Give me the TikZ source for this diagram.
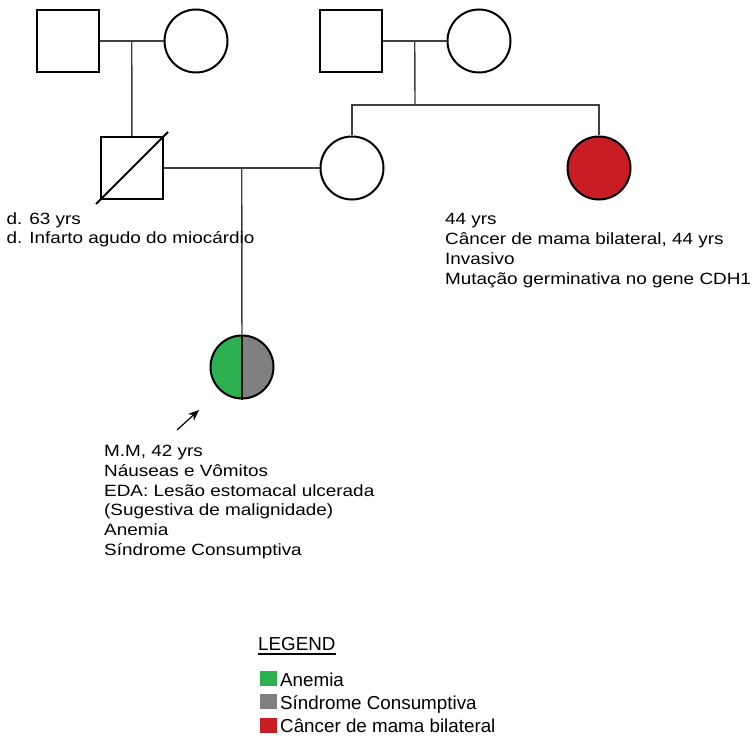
\documentclass[tikz,border=0pt]{standalone}
\usepackage{fontspec}
\setmainfont{Liberation Sans}
\newfontfamily\widesans{Liberation Sans}[FakeStretch=1.16]
\usepackage{tikz}
\usetikzlibrary{arrows.meta}
\usepackage{color}

\definecolor{anemia}{RGB}{45,176,80}
\definecolor{consumptiva}{RGB}{128,128,128}
\definecolor{mama}{RGB}{200,30,35}

\tikzset{
  male/.style={shape=rectangle,draw=black,line width=2pt,minimum size=62pt,inner sep=0pt},
  female/.style={shape=circle,draw=black,line width=2pt,minimum size=63pt,inner sep=0pt},
  rel/.style={draw=black!75,line width=1.4pt},
  info/.style={anchor=north west,inner sep=0pt,align=left,font=\widesans\fontsize{16.3}{19.8}\selectfont},
  keytext/.style={anchor=base west,inner sep=0pt,font=\fontsize{18.8}{23}\selectfont},
  swatch/.style={shape=rectangle,inner sep=0pt,minimum width=17pt,minimum height=15pt}
}

\begin{document}
\begin{tikzpicture}[x=1pt,y=-1pt]
	    \useasboundingbox[fill=white] (0,0) rectangle (752,738);

	    \node[male] (A) at (68,41) {};
	    \node[female] (B) at (196,41) {};
	    \node[male] (C) at (351,41) {};
	    \node[female] (D) at (479,41) {};
	    \node[male] (E) at (132,168) {};
	    \node[female] (F) at (352,168) {};
	    \node[female,fill=mama] (G) at (599,168) {};
	    \node[female,fill=consumptiva,path picture={\fill[anemia] (path picture bounding box.south west) rectangle (path picture bounding box.north);}] (H) at (242,367) {};

	    \path (A) -- (B) coordinate[midway] (AB);
	    \path (C) -- (D) coordinate[midway] (CD);
	    \path (E) -- (F) coordinate[midway] (EF);
	    \coordinate (S) at (415,105);

	    \draw[rel] (A) -- (B);
	    \draw[rel] (AB) -- (E);
	    \draw[rel] (C) -- (D);
	    \draw[rel] (CD) -- (S);
	    \draw[rel] (F.north) |- (S) -| (G.north);
	    \draw[rel] (E) -- (F);
	    \draw[rel] (EF) -- (H);

	    \draw[line width=2pt] ([shift={(-4,4)}]E.south west) -- ([shift={(4,-4)}]E.north east);
	    \draw[line width=2pt] (H.north) -- (H.south);

	    \coordinate (P) at (177,430);
	    \coordinate (Q) at (199,410);
	    \draw[-{Stealth[length=11pt,width=9pt]},line width=1.2pt] (P) -- (Q);

	    \node[info] (Et) at (6.5,212) {d. 63 yrs\\d. Infarto agudo do miocárdio};
	    \node[info] (Gt) at (445,213.5) {44 yrs\\Câncer de mama bilateral, 44 yrs\\Invasivo\\Mutação germinativa no gene CDH1};
	    \node[info] (Ht) at (104,445) {M.M, 42 yrs\\Náuseas e Vômitos\\EDA: Lesão estomacal ulcerada\\(Sugestiva de malignidade)\\Anemia\\Síndrome Consumptiva};

	    \node[keytext] (L) at (258,650) {LEGEND};
	    \draw[line width=1.8pt] ([yshift=-4pt]L.south west) -- ([yshift=-4pt]L.south east);
	    \node[swatch,fill=anemia] (K1) at (268.5,678) {};
	    \node[swatch,fill=consumptiva] (K2) at (268.5,701.5) {};
	    \node[swatch,fill=mama] (K3) at (268.5,725) {};
	    \node[keytext] (T1) at (280,686) {Anemia};
	    \node[keytext] (T2) at (280,709) {Síndrome Consumptiva};
	    \node[keytext] (T3) at (280,732) {Câncer de mama bilateral};
	\end{tikzpicture}
\end{document}
